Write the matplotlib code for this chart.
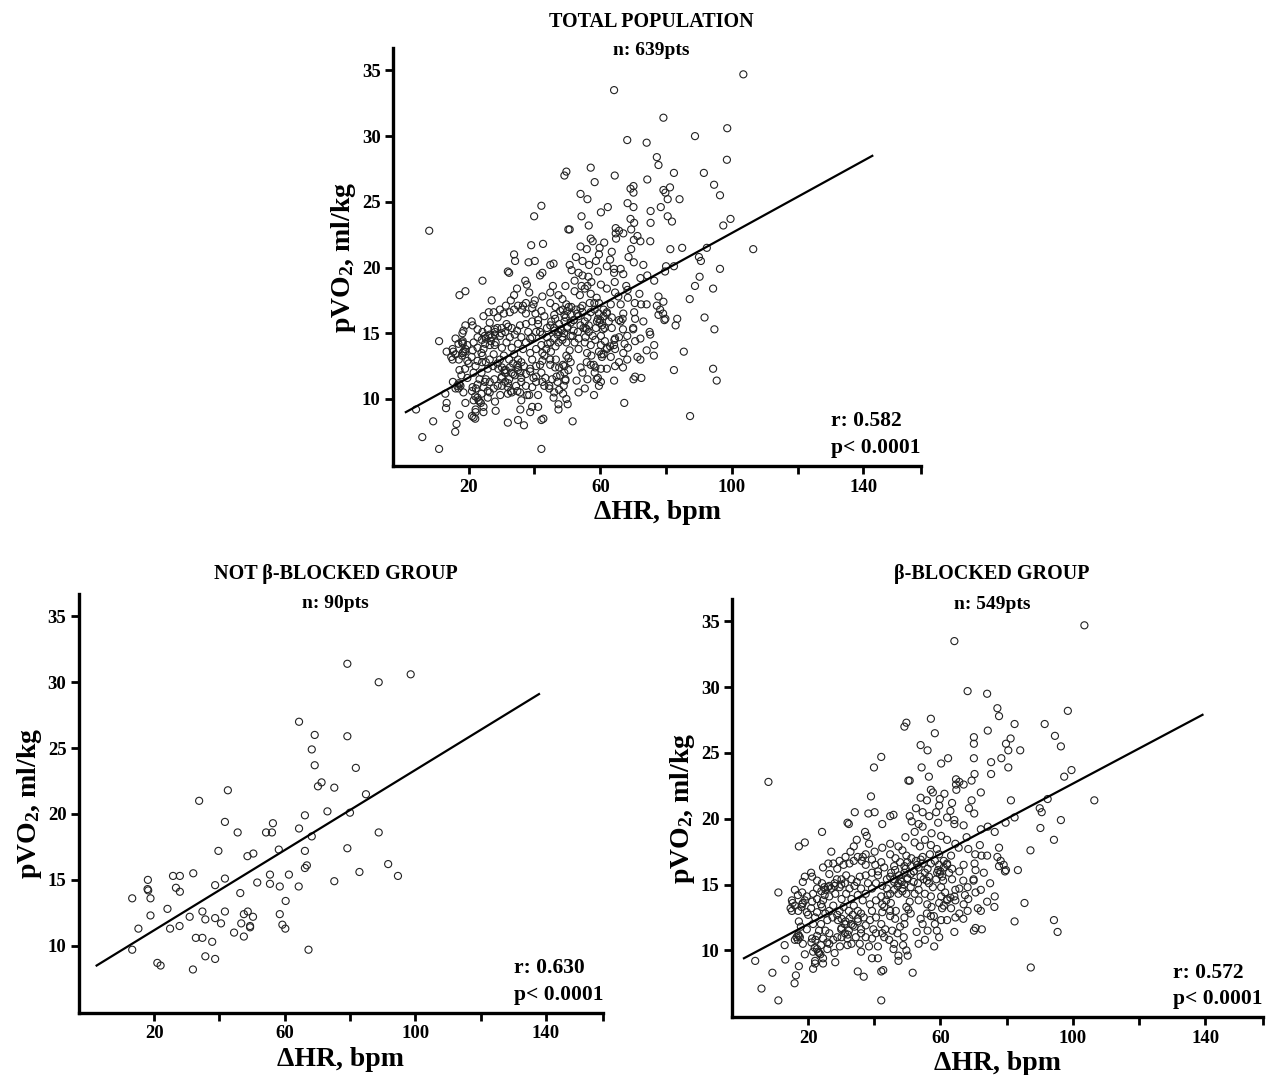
import matplotlib
matplotlib.use("Agg")
import matplotlib.pyplot as plt
from matplotlib.ticker import FixedLocator

plt.rcParams['font.family'] = ['Liberation Serif', 'DejaVu Serif']
plt.rcParams['font.weight'] = 'bold'
plt.rcParams['mathtext.fontset'] = 'custom'
plt.rcParams['mathtext.rm'] = 'Liberation Serif:bold'
plt.rcParams['mathtext.bf'] = 'Liberation Serif:bold'
plt.rcParams['mathtext.it'] = 'Liberation Serif:bold'

# axis ticks
x_ticks = [20, 60, 100, 140]
x_minor = [40, 80, 120, 157.5]
y_ticks = [10, 15, 20, 25, 30, 35]

# NOT beta-blocked group (90 pts)
nbb_x = [79.2, 98.6, 88.8, 64.4, 69.2, 79.2, 68.3, 69.2, 81.8, 71.3,
         70.2, 75.2, 84.9, 42.6, 33.8, 73.1, 66.2, 80.0, 41.7, 56.4,
         45.6, 54.3, 56.1, 64.4, 88.8, 68.3, 39.7, 58.2, 50.4, 48.6,
         79.2, 66.2, 66.8, 66.2, 91.7, 82.9, 94.7, 75.2, 32.0, 25.8,
         27.9, 18.1, 18.0, 18.2, 26.7, 27.9, 41.7, 38.7, 55.5, 55.5,
         51.6, 58.5, 61.3, 64.3, 46.4, 60.3, 13.3, 18.9, 24.1, 18.9,
         34.8, 41.7, 48.7, 50.3, 30.9, 35.7, 38.7, 40.5, 46.7, 47.5,
         49.4, 49.4, 58.5, 59.3, 60.2, 27.8, 24.9, 15.2, 44.5, 47.5,
         32.8, 34.8, 37.8, 13.3, 67.3, 35.7, 38.7, 21.0, 22.0, 31.9]
nbb_y = [31.4, 30.6, 30.0, 27.0, 26.0, 25.9, 24.9, 23.7, 23.5, 22.4,
         22.1, 22.0, 21.5, 21.8, 21.0, 20.2, 19.9, 20.1, 19.4, 19.3,
         18.6, 18.6, 18.6, 18.9, 18.6, 18.3, 17.2, 17.3, 17.0, 16.8,
         17.4, 17.2, 16.1, 15.9, 16.2, 15.6, 15.3, 14.9, 15.5, 15.3,
         15.3, 15.0, 14.3, 14.2, 14.4, 14.1, 15.1, 14.6, 15.4, 14.7,
         14.8, 14.5, 15.4, 14.5, 14.0, 13.4, 13.6, 13.6, 12.8, 12.3,
         12.6, 12.6, 12.6, 12.2, 12.2, 12.0, 12.1, 11.7, 11.7, 12.4,
         11.5, 11.4, 12.4, 11.6, 11.3, 11.5, 11.3, 11.3, 11.0, 10.7,
         10.6, 10.6, 10.3, 9.7, 9.7, 9.2, 9.0, 8.7, 8.5, 8.2]

# beta-blocked group (dense core estimated)
bb_x = [103.5, 64.2, 68.2, 74.1, 77.2, 77.7, 98.5, 57.1, 82.4, 91.5,
        49.7, 49.1, 74.3, 58.3, 70.1, 70.1, 94.6, 96.4, 81.2, 79.8,
        84.1, 80.5, 42.1, 54.0, 56.1, 62.3, 60.2, 70.1, 75.3, 78.4,
        80.5, 39.9, 54.3, 56.5, 70.3, 75.3, 97.4, 99.6, 50.3, 50.7,
        64.7, 65.7, 64.7, 67.0, 69.4, 57.1, 57.7, 64.8, 72.2, 61.2,
        8.0, 39.0, 81.3, 106.5, 92.4, 54.0, 55.9, 59.8, 63.5, 69.4,
        59.6, 63.0, 68.6, 70.2, 34.1, 38.2, 40.1, 44.8, 45.8, 52.6,
        54.6, 56.6, 58.7, 62.0, 90.0, 90.6, 82.4, 50.7, 51.3, 31.9,
        32.3, 42.4, 53.4, 54.6, 59.3, 64.2, 64.2, 67.0, 96.4, 90.2,
        79.7, 24.2, 37.2, 37.7, 52.2, 57.3, 72.2, 74.3, 76.4, 49.4,
        55.3, 60.2, 62.0, 67.9, 64.5, 65.5, 94.3, 17.2, 19.0, 34.7,
        33.8, 38.4, 42.4, 44.8, 47.3, 48.5, 52.2, 53.8, 57.1, 58.9,
        71.9, 68.4, 72.4, 74.1, 77.7, 87.2, 27.0, 32.8, 40.1, 36.5,
        44.8, 46.4, 49.7, 54.6, 56.8, 59.6, 63.2, 70.5, 77.2, 78.2,
        79.1, 77.7, 79.8, 79.5, 83.4, 70.3, 67.0, 63.5, 65.7, 59.6,
        59.3, 59.8, 58.7, 56.5, 55.3, 54.9, 52.6, 53.4, 51.0, 49.1,
        47.5, 50.0, 48.3, 47.3, 46.0, 44.8, 43.0, 42.1, 40.3, 37.4,
        36.2, 32.5, 30.7, 28.8, 26.4, 37.4, 39.3, 41.1, 26.1, 20.9,
        21.2, 19.0, 18.4, 16.0, 16.9, 11.0, 18.2, 15.1, 15.3, 18.4,
        18.2, 14.7, 15.1, 23.9, 24.2, 20.0, 22.1, 17.2, 17.8, 17.2,
        17.5, 16.9, 12.9, 18.4, 21.2, 22.2, 19.0, 13.1, 4.0, 17.2,
        9.2, 16.3, 15.9, 5.9, 11.0, 42.1, 87.3, 21.5, 22.1, 24.5,
        23.7, 25.8, 26.4, 28.2, 28.0, 29.6, 31.9, 35.0, 36.8, 36.0,
        35.6, 38.4, 39.3, 41.1, 42.1, 42.7, 41.1, 43.0, 47.3, 47.3,
        50.1, 51.6, 46.0, 48.9, 47.0, 45.4, 52.8, 58.1, 59.6, 60.2,
        64.2, 64.5, 70.1, 70.6, 72.5, 82.4, 94.3, 95.4, 85.4, 76.3,
        74.1, 76.4, 72.2, 71.3, 68.2, 67.0, 72.2, 75.0, 70.0, 70.0,
        68.2, 65.7, 64.5, 64.5, 64.2, 62.0, 60.2, 59.6, 60.5, 57.3,
        60.2, 61.4, 57.1, 55.3, 53.4, 52.2, 53.4, 50.7, 49.7, 50.3,
        55.9, 57.1, 54.0, 51.0, 49.1, 49.1, 47.8, 46.3, 44.8, 44.8,
        43.0, 42.4, 43.6, 42.1, 42.4, 40.5, 38.7, 39.3, 40.5, 38.7,
        37.4, 39.7, 42.1, 43.3, 42.4, 36.8, 36.0, 35.0, 33.5, 32.3,
        31.1, 30.1, 28.8, 27.6, 26.4, 25.2, 23.9, 25.8, 27.4, 28.8,
        30.1, 31.3, 32.5, 33.5, 35.0, 33.8, 32.3, 30.7, 29.5, 27.6,
        26.4, 25.2, 24.5, 26.4, 28.2, 30.1, 31.5, 33.1, 35.0, 36.5,
        37.4, 36.0, 34.0, 32.5, 31.1, 29.5, 28.0, 26.4, 25.2, 24.9,
        28.7, 30.1, 31.5, 33.1, 34.7, 35.6, 38.1, 39.3, 40.5, 42.4,
        43.8, 44.8, 46.0, 47.3, 48.5, 49.7, 51.0, 51.9, 53.2, 54.0,
        55.9, 56.5, 57.7, 46.3, 45.1, 43.8, 46.0, 47.8, 49.1, 50.0,
        51.2, 51.9, 54.6, 56.1, 57.1, 58.3, 61.0, 62.0, 62.6, 63.5,
        60.8, 66.9, 70.6, 73.1, 41.1, 39.3, 37.4, 35.0, 33.8, 31.3,
        29.5, 27.6, 24.5, 22.7, 24.2, 22.7, 21.5, 22.7, 21.2, 19.6,
        20.9, 19.6, 22.7, 21.5, 19.6, 23.3, 22.7, 24.5, 25.8, 23.9,
        22.7, 21.5, 23.3, 24.5, 22.1, 30.1, 31.9, 33.1, 34.4, 36.0,
        37.4, 39.3, 40.5, 44.5, 45.8, 48.7, 49.7, 53.4, 55.3, 56.1,
        54.6, 58.3, 58.9, 62.0, 63.2, 65.7, 66.9, 68.4, 70.6, 67.4,
        48.0, 49.0, 47.0, 50.0, 46.0, 48.5, 51.0, 49.5, 52.0, 53.0,
        54.0, 44.0, 45.0, 46.5, 33.0, 34.0, 35.0, 31.0, 29.0, 36.0,
        32.0, 30.0, 17.0, 18.0, 16.0, 19.0, 60.0, 61.0, 62.0, 60.5,
        59.0, 27.0, 26.0, 28.0, 30.0, 24.0, 25.0, 22.0, 23.0, 21.0,
        16.0, 17.0, 16.5, 61.0, 62.0, 63.0, 56.0, 58.0]
bb_y = [34.7, 33.5, 29.7, 29.5, 28.4, 27.8, 28.2, 27.6, 27.2, 27.2,
        27.3, 27.0, 26.7, 26.5, 26.2, 25.7, 26.3, 25.5, 26.1, 25.7,
        25.2, 25.2, 24.7, 25.6, 25.2, 24.6, 24.2, 24.6, 24.3, 24.6,
        23.9, 23.9, 23.9, 23.2, 23.4, 23.4, 23.2, 23.7, 22.9, 22.9,
        23.0, 22.8, 22.6, 22.6, 22.9, 22.2, 22.0, 22.2, 22.0, 21.9,
        22.8, 21.7, 21.4, 21.4, 21.5, 21.6, 21.4, 21.5, 21.2, 21.4,
        21.0, 20.6, 20.8, 20.4, 20.5, 20.4, 20.5, 20.2, 20.3, 20.8,
        20.5, 20.2, 20.5, 20.1, 20.8, 20.5, 20.1, 20.2, 19.8, 19.7,
        19.6, 19.6, 19.6, 19.4, 19.7, 19.9, 19.6, 19.5, 19.9, 19.3,
        19.7, 19.0, 19.0, 18.7, 19.0, 18.9, 19.2, 19.4, 19.0, 18.6,
        18.4, 18.7, 18.4, 18.6, 18.1, 17.8, 18.4, 17.9, 18.2, 18.4,
        17.9, 18.1, 17.8, 18.1, 17.9, 17.6, 18.2, 17.9, 18.0, 17.7,
        18.0, 17.7, 17.2, 17.2, 17.8, 17.6, 17.5, 17.5, 17.5, 17.1,
        17.3, 17.0, 17.2, 17.1, 17.3, 17.3, 17.2, 17.3, 17.1, 16.8,
        16.5, 16.4, 16.1, 16.0, 16.1, 16.6, 16.5, 16.2, 16.0, 16.5,
        16.1, 15.8, 15.4, 15.6, 15.9, 15.4, 16.8, 16.3, 16.4, 15.9,
        15.7, 15.4, 15.2, 15.1, 15.4, 15.6, 16.3, 16.7, 16.5, 16.5,
        16.8, 16.6, 16.5, 16.2, 15.8, 15.7, 15.9, 15.7, 16.6, 15.9,
        15.6, 15.6, 15.2, 14.6, 14.2, 14.4, 14.4, 13.8, 13.6, 13.6,
        13.5, 13.2, 13.0, 13.5, 13.3, 12.7, 12.5, 12.2, 11.8, 11.1,
        11.0, 10.8, 10.4, 10.5, 10.9, 10.8, 9.7, 9.3, 9.2, 8.8,
        8.3, 8.1, 7.5, 7.1, 6.2, 6.2, 8.7, 8.6, 9.0, 9.4,
        9.7, 10.1, 10.5, 9.1, 9.8, 10.3, 10.4, 8.4, 8.0, 9.9,
        10.5, 10.3, 9.4, 9.4, 8.4, 8.5, 10.3, 11.0, 9.2, 9.6,
        9.6, 8.3, 10.5, 11.0, 11.3, 11.5, 11.4, 10.3, 11.0, 12.3,
        11.4, 12.5, 11.5, 11.7, 11.6, 12.2, 12.3, 11.4, 13.6, 13.3,
        13.7, 14.1, 13.0, 13.2, 13.0, 13.5, 14.6, 15.1, 15.4, 15.3,
        14.8, 14.7, 14.6, 13.8, 14.1, 13.8, 14.1, 13.6, 13.2, 13.3,
        14.8, 14.4, 14.1, 14.3, 14.6, 14.3, 13.8, 13.7, 13.3, 13.1,
        12.8, 12.6, 12.4, 12.8, 12.5, 12.0, 11.8, 12.4, 12.6, 13.0,
        13.3, 12.9, 13.8, 14.1, 13.5, 13.8, 13.5, 13.0, 12.5, 12.3,
        11.9, 11.6, 12.0, 11.6, 11.3, 12.5, 12.8, 12.4, 11.9, 11.5,
        11.3, 11.7, 11.0, 10.8, 11.3, 11.5, 12.0, 12.3, 12.5, 12.7,
        12.4, 12.2, 12.4, 12.7, 13.0, 13.4, 13.0, 13.3, 13.0, 13.4,
        13.0, 12.8, 13.8, 14.1, 14.3, 13.9, 14.3, 13.9, 14.2, 13.8,
        14.3, 14.7, 14.9, 14.7, 15.1, 14.8, 15.1, 14.9, 14.6, 14.8,
        15.4, 15.4, 15.7, 15.4, 15.2, 15.6, 15.1, 14.7, 15.1, 14.9,
        14.7, 14.3, 14.6, 14.3, 14.7, 14.3, 14.8, 15.2, 15.1, 15.6,
        15.3, 15.1, 14.8, 16.1, 15.9, 15.4, 16.4, 16.7, 16.4, 16.7,
        17.0, 16.0, 16.6, 16.2, 16.6, 16.8, 16.8, 16.5, 15.9, 15.4,
        15.3, 15.3, 16.1, 15.9, 16.0, 16.9, 17.3, 17.1, 16.8, 17.1,
        16.8, 16.6, 16.3, 15.3, 15.1, 14.7, 14.3, 13.9, 13.7, 14.1,
        13.2, 12.9, 12.9, 12.0, 11.6, 11.5, 11.1, 10.9, 10.6, 10.4,
        10.1, 9.9, 9.8, 9.0, 9.2, 11.0, 10.9, 10.5, 11.0, 11.3,
        11.0, 10.9, 11.3, 10.8, 10.1, 10.4, 10.0, 10.5, 10.8, 11.5,
        12.0, 12.0, 11.5, 12.3, 13.2, 12.8, 12.4, 13.9, 14.4, 14.2,
        15.3, 15.0, 14.9, 15.5, 15.2, 14.5, 15.8, 16.2, 16.0, 16.5,
        16.9, 14.2, 13.6, 13.0, 12.0, 11.8, 12.2, 12.0, 12.3, 11.6,
        11.2, 11.6, 13.0, 13.3, 13.4, 13.8, 16.0, 16.3, 16.6, 15.6,
        15.9, 14.7, 14.8, 14.9, 15.0, 14.5, 14.2, 10.2, 9.9, 10.6,
        10.8, 11.2, 11.0, 13.4, 13.9, 14.0, 13.5, 12.6]

# whole population = both groups
total_x = nbb_x + bb_x
total_y = nbb_y + bb_y

# regression line ends
total_fit_x = [0.9, 142.7]
total_fit_y = [9.0, 28.5]
nbb_fit_x = [2.4, 137.9]
nbb_fit_y = [8.5, 29.1]
bb_fit_x = [0.6, 139.2]
bb_fit_y = [9.4, 27.9]


def draw_panel(ax, xs, ys, fx, fy, title, n_label, r_label, title_y, n_y):
    ax.scatter(xs, ys, s=26, facecolors='none', edgecolors='#222222',
               linewidths=0.8, zorder=2)
    ax.plot(fx, fy, color='black', lw=1.6, zorder=3)
    ax.set_xlim(-3, 157.5)
    ax.set_ylim(4.9, 36.7)
    ax.set_xticks(x_ticks)
    ax.xaxis.set_minor_locator(FixedLocator(x_minor))
    ax.set_yticks(y_ticks)
    ax.spines['top'].set_visible(False)
    ax.spines['right'].set_visible(False)
    ax.spines['left'].set_linewidth(2.4)
    ax.spines['bottom'].set_linewidth(2.4)
    ax.tick_params(axis='both', which='both', direction='out', width=2,
                   length=6, labelsize=13.5, pad=3)
    for lab in ax.get_xticklabels() + ax.get_yticklabels():
        lab.set_fontweight('bold')
    ax.set_xlabel('ΔHR, bpm', fontsize=20, fontweight='bold', labelpad=3)
    ax.set_ylabel(r'pVO$_2$, ml/kg', fontsize=20, fontweight='bold', labelpad=3)
    ax.text(0.49, title_y, title, transform=ax.transAxes, ha='center',
            va='center', fontsize=14.5, fontweight='bold')
    ax.text(0.49, n_y, n_label, transform=ax.transAxes, ha='center',
            va='center', fontsize=14, fontweight='bold')
    ax.text(0.83, 0.107, r_label, transform=ax.transAxes, ha='left',
            va='center', fontsize=15.5, fontweight='bold')
    ax.text(0.83, 0.043, 'p< 0.0001', transform=ax.transAxes, ha='left',
            va='center', fontsize=15.5, fontweight='bold')


fig = plt.figure(figsize=(12.74, 10.75), dpi=100)

ax_top = fig.add_axes([0.3085, 0.5665, 0.4144, 0.3888])
draw_panel(ax_top, total_x, total_y, total_fit_x, total_fit_y,
           'TOTAL POPULATION', 'n: 639pts', 'r: 0.582', 1.062, 0.995)

ax_bl = fig.add_axes([0.062, 0.0577, 0.4113, 0.3898])
draw_panel(ax_bl, nbb_x, nbb_y, nbb_fit_x, nbb_fit_y,
           'NOT β-BLOCKED GROUP', 'n: 90pts', 'r: 0.630', 1.047, 0.978)

ax_br = fig.add_axes([0.5746, 0.0535, 0.4168, 0.3893])
draw_panel(ax_br, bb_x, bb_y, bb_fit_x, bb_fit_y,
           'β-BLOCKED GROUP', 'n: 549pts', 'r: 0.572', 1.059, 0.987)

fig.savefig('out.png', dpi=100)
